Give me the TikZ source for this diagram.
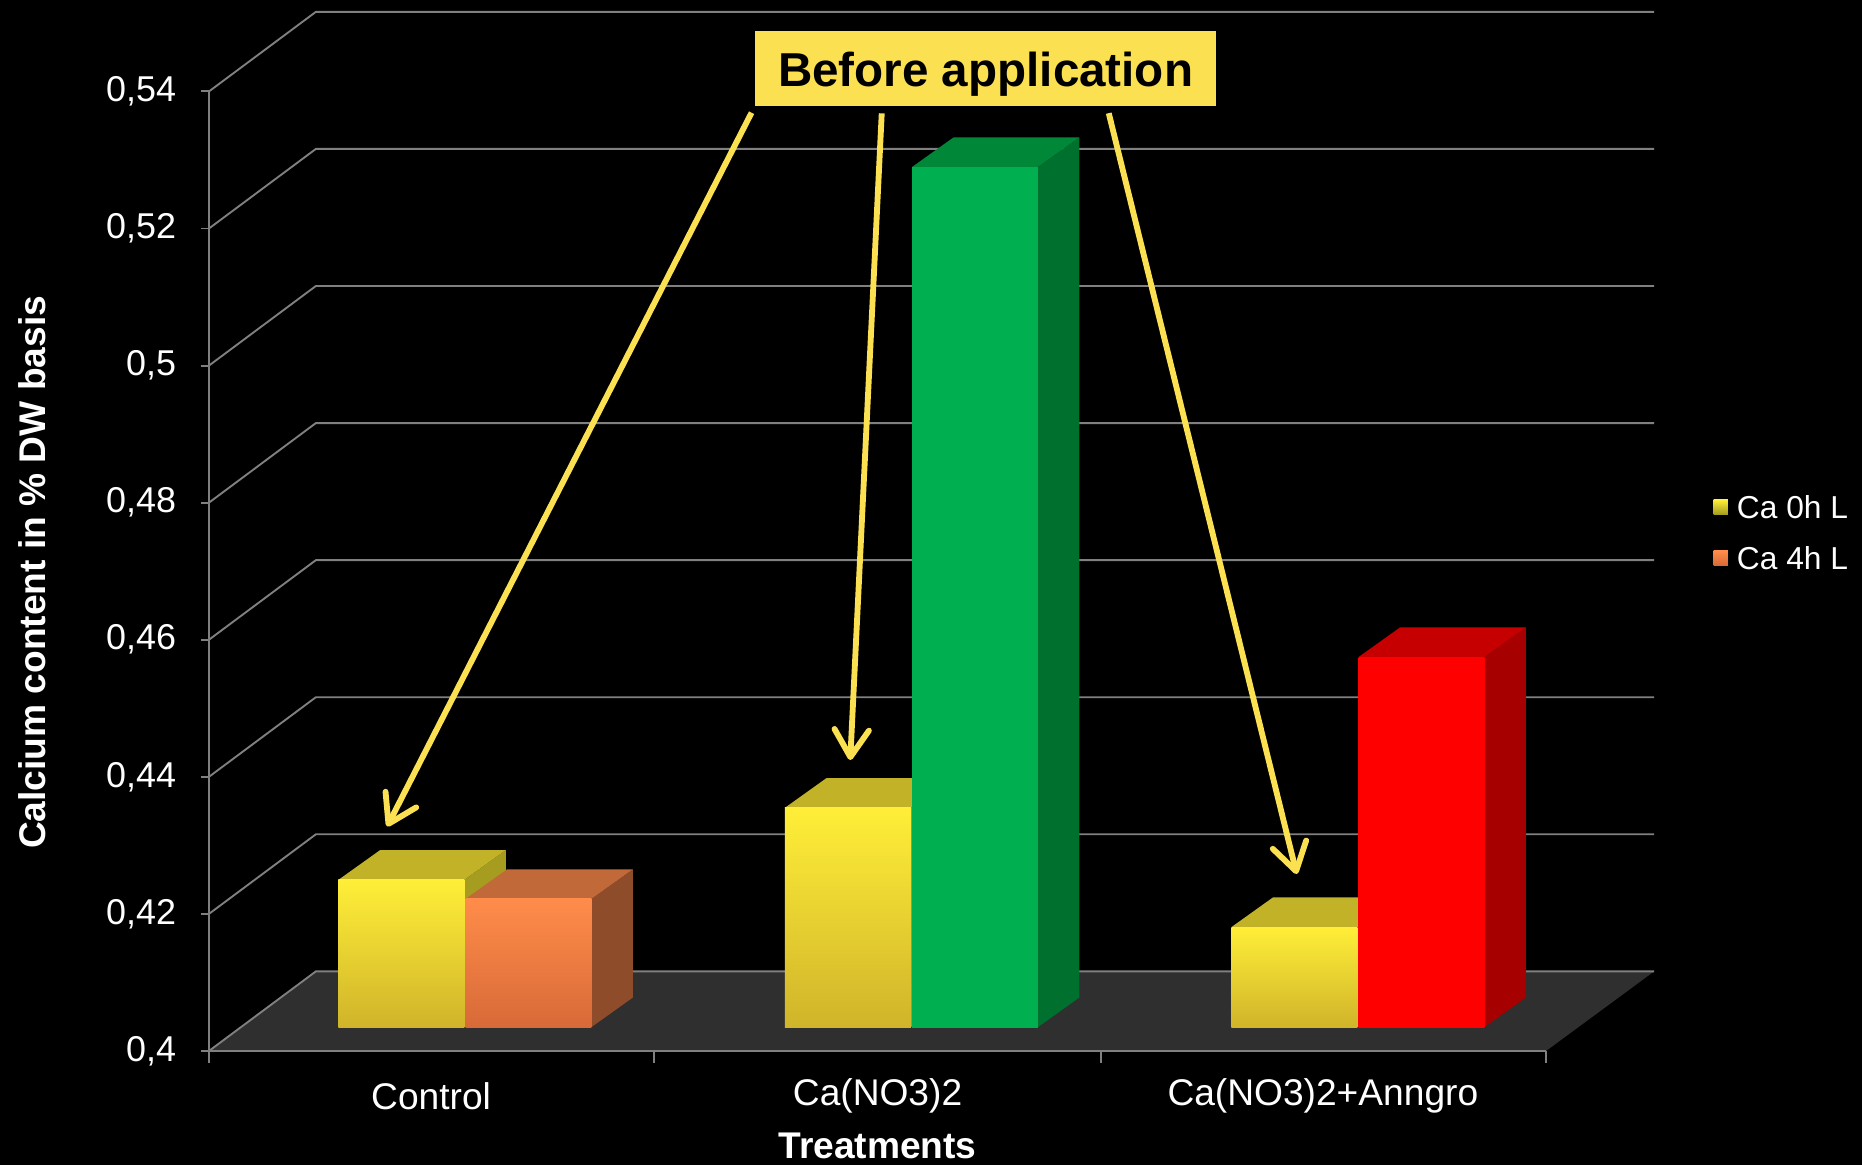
\documentclass[tikz,border=0pt]{standalone}
\usepackage{fontspec}
\setmainfont{Liberation Sans}
\usetikzlibrary{arrows.meta,calc,positioning}

\definecolor{calloutyellow}{HTML}{FBE052}
\definecolor{gridgray}{HTML}{808080}
\definecolor{floorgray}{HTML}{2F2F2F}
\definecolor{ylwfront}{HTML}{FFEE38}
\definecolor{ylwbottom}{HTML}{D0B42A}
\definecolor{ylwtop}{HTML}{C1B227}
\definecolor{ylwside}{HTML}{A59C20}
\definecolor{orgfront}{HTML}{FF8C4A}
\definecolor{orgbottom}{HTML}{D86A38}
\definecolor{orgtop}{HTML}{C2693A}
\definecolor{orgside}{HTML}{8F4C2A}
\definecolor{grnfront}{HTML}{00B050}
\definecolor{grntop}{HTML}{008738}
\definecolor{grnside}{HTML}{00702F}
\definecolor{redfront}{HTML}{FF0000}
\definecolor{redtop}{HTML}{C60000}
\definecolor{redside}{HTML}{A60000}

% 3D bar: left x, value, front top colour, front bottom colour, top face, side face
\newcommand{\drawcube}[6]{%
  \pgfmathsetmacro\ytop{865-(#2-0.4)*5771.4}
  \fill[#6] (#1+106,865) -- (#1+141,840) -- (#1+141,\ytop-25) -- (#1+106,\ytop) -- cycle;
  \fill[#5] (#1,\ytop) -- (#1+106,\ytop) -- (#1+141,\ytop-25) -- (#1+35,\ytop-25) -- cycle;
  \shade[top color=#3, bottom color=#4] (#1,\ytop) rectangle (#1+106,865);
}

\begin{document}
\begin{tikzpicture}[x=0.1mm, y=-0.1mm, >=stealth]
        % Style definitions
        \tikzset{
            grid/.style={draw=gridgray, line width=0.45pt},
            ticklabel/.style={anchor=east, text=white, inner sep=0pt, font=\fontsize{8.6}{10}\selectfont},
            catlabel/.style={text=white, inner sep=0pt, font=\fontsize{8.9}{10.5}\selectfont},
            axistitle/.style={text=white, inner sep=0pt, font=\fontsize{8.9}{10.5}\selectfont\bfseries},
            legendkey/.style={minimum size=1.2mm, inner sep=0pt},
            legendtext/.style={anchor=west, text=white, inner sep=0pt, font=\fontsize{7.6}{9}\selectfont},
            callout/.style={fill=calloutyellow, minimum width=38.8mm, minimum height=6.3mm, inner sep=0pt, text depth=0pt, font=\fontsize{11.4}{13}\selectfont\bfseries},
            pointer/.style={draw=calloutyellow, line width=1.4pt, shorten <=1.5pt, -{Straight Barb[length=2.3mm, width=2.9mm, round]}}
        }
        \useasboundingbox (0,0) rectangle (1568,981);
        \fill[black] (0,0) rectangle (1568,981);

        % Floor and walls
        \fill[floorgray] (176,885) -- (266,818) -- (1393,818) -- (1302,885) -- cycle;
        \foreach \i in {0,...,7}
            \draw[grid] (176,885-\i*115.43) -- (266,818-\i*115.43) -- (1393,818-\i*115.43);
        \draw[grid] (176,77) -- (176,885) -- (1302,885);
        \foreach \i/\lab in {0/{0,4},1/{0,42},2/{0,44},3/{0,46},4/{0,48},5/{0,5},6/{0,52},7/{0,54}} {
            \draw[grid] (169,885-\i*115.43) -- (176,885-\i*115.43);
            \node[ticklabel] (tick\i) at (149,885-\i*115.43) {\lab};
        }
        \foreach \x in {176,551,927,1302}
            \draw[grid] (\x,885) -- (\x,895);

        % Bars
        \drawcube{285}{0.4215}{ylwfront}{ylwbottom}{ylwtop}{ylwside}
        \drawcube{392}{0.4187}{orgfront}{orgbottom}{orgtop}{orgside}
        \drawcube{661}{0.4320}{ylwfront}{ylwbottom}{ylwtop}{ylwside}
        \drawcube{768}{0.5255}{grnfront}{grnfront}{grntop}{grnside}
        \drawcube{1037}{0.4146}{ylwfront}{ylwbottom}{ylwtop}{ylwside}
        \drawcube{1144}{0.4540}{redfront}{redfront}{redtop}{redside}

        % Axis labels
        \node[catlabel] (control) at (363,923) {Control};
        \node[catlabel] (canitrate) at (739,923) {Ca(NO3)2};
        \node[catlabel] (anngro) at (1114,923) {Ca(NO3)2+Anngro};
        \node[axistitle] (treat) at (739,965) {Treatments};
        \node[axistitle, rotate=90] (ytitle) at (27,482) {Calcium content in \% DW basis};

        % Legend
        \node[legendkey, shading=axis, top color=ylwfront, bottom color=ylwside] (key0) at (1449,427) {};
        \node[legendtext] (lab0) at (1462,427) {Ca 0h L};
        \node[legendkey, shading=axis, top color=orgfront, bottom color=orgbottom] (key4) at (1449,470) {};
        \node[legendtext] (lab4) at (1462,470) {Ca 4h L};

        % Callout
        \node[callout] (before) at (830,58) {Before application};
        \coordinate (tipctl) at (326,696);
        \coordinate (tipca) at (716,640);
        \coordinate (tipann) at (1092,736);
        \draw[pointer] (before.south west) -- (tipctl);
        \draw[pointer] ($(before.south west)!0.276!(before.south east)$) -- (tipca);
        \draw[pointer] ($(before.south west)!0.763!(before.south east)$) -- (tipann);
    \end{tikzpicture}
\end{document}
